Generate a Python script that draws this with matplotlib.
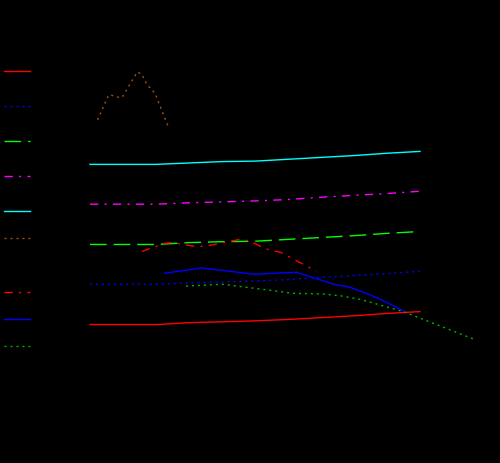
import matplotlib
matplotlib.use('Agg')
import matplotlib.pyplot as plt
from matplotlib.lines import Line2D

# yearly series (five parallel lines)
years = [2010, 2011, 2012, 2013, 2014, 2015, 2016, 2017, 2018, 2019, 2020]
cyan_vals = [64.5, 64.5, 64.5, 64.8, 65.1, 65.2, 65.6, 66.0, 66.4, 66.9, 67.3]
magenta_vals = [55.9, 55.9, 55.9, 56.2, 56.4, 56.6, 56.9, 57.4, 57.8, 58.2, 58.7]
green_vals = [47.2, 47.2, 47.2, 47.6, 47.8, 47.9, 48.3, 48.7, 49.1, 49.6, 50.0]
blue_dot_vals = [38.6, 38.6, 38.6, 38.9, 39.1, 39.3, 39.6, 40.1, 40.5, 40.9, 41.4]
red_vals = [29.9, 29.9, 29.9, 30.3, 30.5, 30.7, 31.0, 31.4, 31.8, 32.3, 32.7]

# irregular series
brown_x = [2010.23, 2010.54, 2010.61, 2010.79, 2010.98, 2011.43, 2011.57, 2011.72, 2011.97, 2012.38]
brown_y = [74.1, 79.1, 79.6, 79.0, 79.05, 84.45, 83.95, 81.8, 79.85, 72.5]

red_dd_x = [2011.57, 2012.27, 2012.48, 2013.18, 2013.48, 2014.55, 2014.85, 2015.3, 2015.79, 2016.85]
red_dd_y = [45.7, 47.45, 47.6, 46.8, 46.8, 48.3, 47.95, 46.3, 45.45, 41.45]

blue_x = [2012.25, 2013.38, 2015.0, 2015.76, 2016.26, 2017.37, 2017.88, 2018.33, 2018.89, 2019.49]
blue_y = [40.97, 42.12, 40.76, 41.04, 41.19, 38.66, 37.95, 36.78, 35.05, 32.89]

green_dot_x = [2012.91, 2014.03, 2014.6, 2015.45, 2016.15, 2017.06, 2017.58, 2018.18, 2019.18, 2019.55, 2021.62]
green_dot_y = [38.23, 38.6, 38.08, 37.3, 36.65, 36.5, 36.13, 35.36, 33.33, 32.55, 26.78]

dashed = (0, (12, 5))
dashdot = (0, (6, 4.5, 1.5, 4.5))
dotted = (0, (1.5, 2.8))
brown = '#a0500a'
dkgreen = '#00b000'

fig = plt.figure(figsize=(5, 4.63), dpi=100, facecolor='black')
ax = fig.add_axes([0, 0, 1, 1])
ax.set_facecolor('black')
ax.axis('off')

ax.plot(years, cyan_vals, color='cyan', lw=1)
ax.plot(years, magenta_vals, color='magenta', lw=1, linestyle=dashdot)
ax.plot(years, green_vals, color='lime', lw=1, linestyle=dashed)
ax.plot(years, blue_dot_vals, color='blue', lw=1, linestyle=dotted)
ax.plot(years, red_vals, color='red', lw=1)
ax.plot(brown_x, brown_y, color=brown, lw=1, linestyle=dotted)
ax.plot(red_dd_x, red_dd_y, color='red', lw=1, linestyle=dashdot)
ax.plot(blue_x, blue_y, color='blue', lw=1)
ax.plot(green_dot_x, green_dot_y, color=dkgreen, lw=1, linestyle=dotted)

ax.set_xlim(2010 - 90 / 33, 2010 + 410 / 33)
ax.set_ylim(0, 100)

# legend samples on the left, no labels
W, H = 500, 463
samples = [
    (71.3, 'red', '-'), (106.3, 'blue', dotted), (141.3, 'lime', dashed),
    (176.3, 'magenta', dashdot), (211.3, 'cyan', '-'), (238.3, brown, dotted),
    (292.3, 'red', dashdot), (319.3, 'blue', '-'), (346.3, dkgreen, dotted),
]
for ypix, c, ls in samples:
    fig.add_artist(Line2D([4 / W, 30 / W], [1 - ypix / H, 1 - ypix / H],
                          transform=fig.transFigure, color=c, lw=1, linestyle=ls))

fig.savefig('out.png', dpi=100, facecolor='black')
